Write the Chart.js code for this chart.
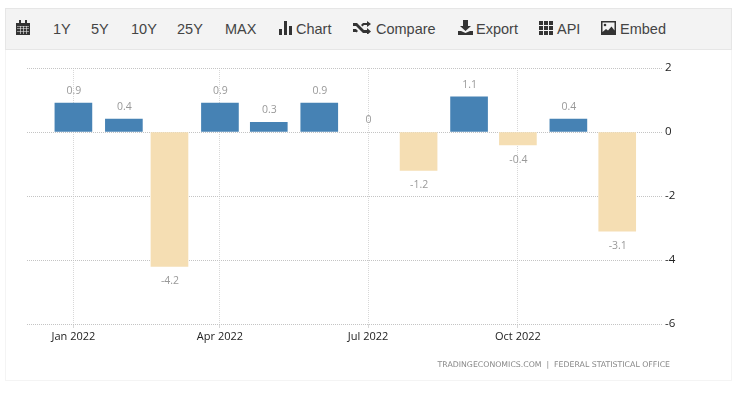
<!DOCTYPE html>
<html>
<head>
    <title></title>
    <script src="https://cdn.jsdelivr.net/npm/chart.js"></script>
    <style>
        html, body { margin: 0; padding: 0; background: #fff; }
        #page { position: relative; width: 740px; height: 394px; overflow: hidden; }
        #frame { position: absolute; left: 5px; top: 8px; width: 725px; height: 371px; border: 1px solid #f4f4f4; }
        #bar { position: absolute; left: 5px; top: 8px; width: 725px; height: 40px; background: #f3f3f3; border: 1px solid #e6e6e6; }
        #page span { position: absolute; top: 21px; font: 14.5px/16px "Liberation Sans", Arial, sans-serif; color: #444; white-space: nowrap; }
        #page svg { position: absolute; fill: #333; }
        canvas { position: absolute; left: 0; top: 0; }
        #source { position: absolute; right: 70px; top: 360px; font: 7.8px/10px "DejaVu Sans", sans-serif; color: #888; white-space: nowrap; }
    </style>
</head>
<body>
<div id="page">
    <div id="frame"></div>
    <canvas id="chart" width="740" height="394"></canvas>
    <div id="bar"></div>
    <svg style="left:16px;top:20px" width="14" height="15" viewBox="0 0 14 15"><path d="M0 3h14v12H0zM3 0h2v3H3zM9 0h2v3H9z"/><path fill="#f3f3f3" d="M1 6h12v.6H1zM1 8.4h12V9H1zM1 11h12v.6H1zM4 6h.6v8H4zM7 6h.6v8H7zM10 6h.6v8H10z"/></svg>
    <span style="left:53px">1Y</span>
    <span style="left:91px">5Y</span>
    <span style="left:131px">10Y</span>
    <span style="left:177px">25Y</span>
    <span style="left:225px">MAX</span>
    <svg style="left:279px;top:21px" width="14" height="14" viewBox="0 0 14 14"><path d="M0 8h3v6H0zM5 0h3v14H5zM10 5h3v9h-3z"/></svg>
    <span style="left:296px">Chart</span>
    <svg style="left:353px;top:21px" width="18" height="13" viewBox="0 0 18 13"><path d="M0 2h4l7 7h3V7l4 3.5-4 3.5v-2h-4L3 5H0zM0 8h3l2 2-1.500 1.500L3 11H0zM10 2h4V0l4 3-4 3V4h-3L9.500 5.500 8 4z"/></svg>
    <span style="left:376px">Compare</span>
    <svg style="left:458px;top:20px" width="15" height="15" viewBox="0 0 15 15"><path d="M5 0h5v6h3l-5.500 5L2 6h3zM0 11h3l4.500 2 4.500-2h3v4H0z"/></svg>
    <span style="left:476px">Export</span>
    <svg style="left:539px;top:21px" width="14" height="14" viewBox="0 0 14 14"><path d="M0 0h4v4H0zM5 0h4v4H5zM10 0h4v4h-4zM0 5h4v4H0zM5 5h4v4H5zM10 5h4v4h-4zM0 10h4v4H0zM5 10h4v4H5zM10 10h4v4h-4z"/></svg>
    <span style="left:557px">API</span>
    <svg style="left:601px;top:21px" width="15" height="14" viewBox="0 0 15 14"><path d="M0 0h15v14H0z"/><path fill="#f3f3f3" d="M1.500 1.500h12v8l-3-4-3.500 4-2-1.500-3.500 3z"/><circle cx="4" cy="4" r="1.300"/></svg>
    <span style="left:620px">Embed</span>
    <div id="source">TRADINGECONOMICS.COM &nbsp;|&nbsp; FEDERAL STATISTICAL OFFICE</div>
</div>

<script>
    // days since 1 Jan 2022, so the months keep their real uneven spacing
    const monthDays = [0, 31, 59, 90, 120, 151, 181, 212, 243, 273, 304, 334];
    const values = [0.9, 0.4, -4.2, 0.9, 0.3, 0.9, 0, -1.2, 1.1, -0.4, 0.4, -3.1];
    const valueLabels = ['0.9', '0.4', '-4.2', '0.9', '0.3', '0.9', '0', '-1.2', '1.1', '-0.4', '0.4', '-3.1'];
    const xTickDays = [0, 90, 181, 273];
    const xTickLabels = ['Jan 2022', 'Apr 2022', 'Jul 2022', 'Oct 2022'];
    const yTicks = [2, 0, -2, -4, -6];

    const axisFont = '"Open Sans", sans-serif';

    const valueLabelPlugin = {
        id: 'valueLabels',
        afterDatasetsDraw(chart) {
            const c = chart.ctx;
            const bars = chart.getDatasetMeta(0).data;
            c.save();
            c.font = '10.5px ' + axisFont;
            c.fillStyle = '#999';
            c.textAlign = 'center';
            c.textBaseline = 'middle';
            bars.forEach(function (bar, i) {
                const off = values[i] < 0 ? 15 : -12;
                c.fillText(valueLabels[i], bar.x + 0.5, bar.y + off);
            });
            c.restore();
        }
    };

    new Chart(document.getElementById('chart').getContext('2d'), {
        type: 'bar',
        data: {
            datasets: [{
                data: monthDays.map(function (d, i) { return { x: d, y: values[i] }; }),
                backgroundColor: values.map(function (v) {
                    if (v === 0) return 'transparent';
                    return v < 0 ? '#F5DEB3' : '#4682B4';
                }),
                barThickness: 37
            }]
        },
        options: {
            responsive: false,
            animation: false,
            layout: { padding: { left: 27, top: 68, right: 0, bottom: 0 } },
            plugins: { legend: { display: false }, tooltip: { enabled: false } },
            scales: {
                x: {
                    type: 'linear',
                    offset: false,
                    min: -28.5,
                    max: 361.5,
                    afterBuildTicks(scale) {
                        scale.ticks = xTickDays.map(function (d) { return { value: d }; });
                    },
                    afterFit(scale) { scale.height = 70; },
                    border: { display: false, dash: [1, 1] },
                    grid: { offset: false, color: '#d8d8d8', tickColor: '#d8d8d8', tickLength: 4 },
                    ticks: {
                        autoSkip: false,
                        maxRotation: 0,
                        padding: 2,
                        color: '#222',
                        font: { family: axisFont, size: 11 },
                        callback(v) { return xTickLabels[xTickDays.indexOf(v)]; }
                    }
                },
                y: {
                    position: 'right',
                    min: -6,
                    max: 2,
                    afterBuildTicks(scale) {
                        scale.ticks = yTicks.map(function (v) { return { value: v }; });
                    },
                    afterFit(scale) { scale.width = 78; },
                    border: { display: false, dash: [1, 1] },
                    grid: { color: '#c4c4c4', drawTicks: false },
                    ticks: {
                        padding: 3,
                        color: '#222',
                        font: { family: axisFont, size: 11.5 }
                    }
                }
            }
        },
        plugins: [valueLabelPlugin]
    });
</script>
</body>
</html>
